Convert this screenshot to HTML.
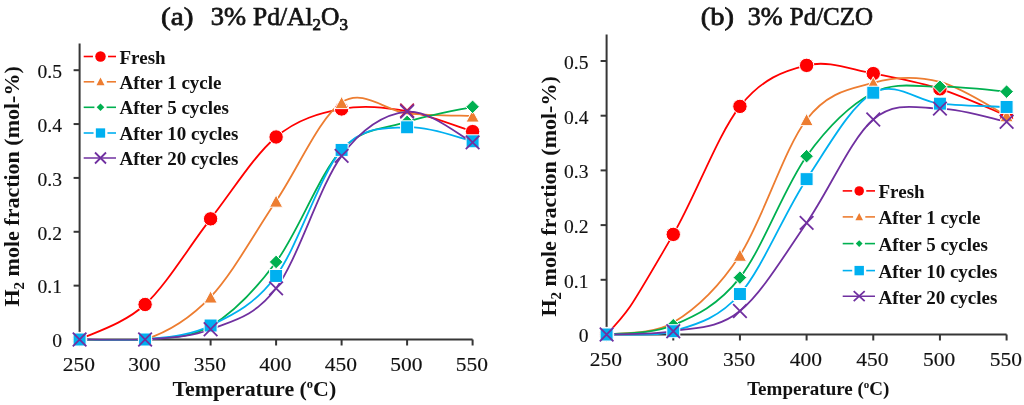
<!DOCTYPE html>
<html><head><meta charset="utf-8"><style>
html,body{margin:0;padding:0;background:#fff;width:1024px;height:405px;overflow:hidden;}
svg{display:block;filter:blur(0.45px);}
text{font-family:"Liberation Serif",serif;fill:#111111;}
.tick{font-size:19px;stroke:#1a1a1a;stroke-width:0.15px;}
.title{font-size:26px;stroke:#1a1a1a;stroke-width:0.75px;}
.axt{font-weight:bold;}
.leg{font-weight:bold;}
</style></head><body>
<svg width="1024" height="405" viewBox="0 0 1024 405">
<rect width="1024" height="405" fill="#fff"/>
<path d="M79.60,43.5 L79.60,339.50 L472.60,339.50" fill="none" stroke="#363636" stroke-width="2"/>
<line x1="73.60" y1="339.50" x2="79.60" y2="339.50" stroke="#363636" stroke-width="2"/>
<text transform="translate(62.00,347.30) scale(1.03,1)" text-anchor="end" class="tick">0</text>
<line x1="73.60" y1="285.64" x2="79.60" y2="285.64" stroke="#363636" stroke-width="2"/>
<text transform="translate(62.00,293.44) scale(1.03,1)" text-anchor="end" class="tick">0.1</text>
<line x1="73.60" y1="231.78" x2="79.60" y2="231.78" stroke="#363636" stroke-width="2"/>
<text transform="translate(62.00,239.58) scale(1.03,1)" text-anchor="end" class="tick">0.2</text>
<line x1="73.60" y1="177.92" x2="79.60" y2="177.92" stroke="#363636" stroke-width="2"/>
<text transform="translate(62.00,185.72) scale(1.03,1)" text-anchor="end" class="tick">0.3</text>
<line x1="73.60" y1="124.06" x2="79.60" y2="124.06" stroke="#363636" stroke-width="2"/>
<text transform="translate(62.00,131.86) scale(1.03,1)" text-anchor="end" class="tick">0.4</text>
<line x1="73.60" y1="70.20" x2="79.60" y2="70.20" stroke="#363636" stroke-width="2"/>
<text transform="translate(62.00,78.00) scale(1.03,1)" text-anchor="end" class="tick">0.5</text>
<line x1="79.60" y1="339.50" x2="79.60" y2="345.50" stroke="#363636" stroke-width="2"/>
<text transform="translate(78.80,371.00) scale(1.13,1)" text-anchor="middle" class="tick">250</text>
<line x1="145.10" y1="339.50" x2="145.10" y2="345.50" stroke="#363636" stroke-width="2"/>
<text transform="translate(144.30,371.00) scale(1.13,1)" text-anchor="middle" class="tick">300</text>
<line x1="210.60" y1="339.50" x2="210.60" y2="345.50" stroke="#363636" stroke-width="2"/>
<text transform="translate(209.80,371.00) scale(1.13,1)" text-anchor="middle" class="tick">350</text>
<line x1="276.10" y1="339.50" x2="276.10" y2="345.50" stroke="#363636" stroke-width="2"/>
<text transform="translate(275.30,371.00) scale(1.13,1)" text-anchor="middle" class="tick">400</text>
<line x1="341.60" y1="339.50" x2="341.60" y2="345.50" stroke="#363636" stroke-width="2"/>
<text transform="translate(340.80,371.00) scale(1.13,1)" text-anchor="middle" class="tick">450</text>
<line x1="407.10" y1="339.50" x2="407.10" y2="345.50" stroke="#363636" stroke-width="2"/>
<text transform="translate(406.30,371.00) scale(1.13,1)" text-anchor="middle" class="tick">500</text>
<line x1="472.60" y1="339.50" x2="472.60" y2="345.50" stroke="#363636" stroke-width="2"/>
<text transform="translate(471.80,371.00) scale(1.13,1)" text-anchor="middle" class="tick">550</text>
<clipPath id="cl"><rect x="79.60" y="43.5" width="394.00" height="296.90"/></clipPath>
<g clip-path="url(#cl)">
<path d="M79.60,339.50 C90.52,333.67 123.27,324.60 145.10,304.49 C166.93,284.38 188.77,246.77 210.60,218.85 C232.43,190.94 254.27,155.30 276.10,136.99 C297.93,118.67 319.77,113.29 341.60,108.98 C363.43,104.67 385.27,107.36 407.10,111.13 C428.93,114.90 461.68,128.19 472.60,131.60" fill="none" stroke="#FF0000" stroke-width="1.8" stroke-linejoin="round"/>
<path d="M79.60,339.50 C90.52,339.50 123.27,346.59 145.10,339.50 C166.93,332.41 188.77,320.02 210.60,296.95 C232.43,273.88 254.27,233.49 276.10,201.08 C297.93,168.67 319.77,117.15 341.60,102.52 C363.43,87.88 385.27,111.04 407.10,113.29 C428.93,115.53 461.68,115.53 472.60,115.98" fill="none" stroke="#ED7D31" stroke-width="1.8" stroke-linejoin="round"/>
<path d="M79.60,339.50 C90.52,339.50 123.27,341.74 145.10,339.50 C166.93,337.26 188.77,338.96 210.60,326.04 C232.43,313.11 254.27,291.30 276.10,261.94 C297.93,232.59 319.77,173.25 341.60,149.91 C363.43,126.57 385.27,129.09 407.10,121.91 C428.93,114.72 461.68,109.34 472.60,106.82" fill="none" stroke="#00B050" stroke-width="1.8" stroke-linejoin="round"/>
<path d="M79.60,339.50 C90.52,339.50 123.27,341.83 145.10,339.50 C166.93,337.17 188.77,336.09 210.60,325.50 C232.43,314.90 254.27,305.21 276.10,275.95 C297.93,246.68 319.77,174.69 341.60,149.91 C363.43,125.14 385.27,128.73 407.10,127.29 C428.93,125.86 461.68,138.96 472.60,141.30" fill="none" stroke="#00B0F0" stroke-width="1.8" stroke-linejoin="round"/>
<path d="M79.60,339.50 C90.52,339.50 123.27,341.21 145.10,339.50 C166.93,337.79 188.77,337.79 210.60,329.27 C232.43,320.74 254.27,317.24 276.10,288.33 C297.93,259.43 319.77,185.28 341.60,155.84 C363.43,126.39 385.27,113.92 407.10,111.67 C428.93,109.43 461.68,137.26 472.60,142.37" fill="none" stroke="#7030A0" stroke-width="1.8" stroke-linejoin="round"/>
</g>
<circle cx="79.60" cy="339.50" r="7.20" fill="#FF0000" stroke="#fff" stroke-width="1"/>
<circle cx="145.10" cy="304.49" r="7.20" fill="#FF0000" stroke="#fff" stroke-width="1"/>
<circle cx="210.60" cy="218.85" r="7.20" fill="#FF0000" stroke="#fff" stroke-width="1"/>
<circle cx="276.10" cy="136.99" r="7.20" fill="#FF0000" stroke="#fff" stroke-width="1"/>
<circle cx="341.60" cy="108.98" r="7.20" fill="#FF0000" stroke="#fff" stroke-width="1"/>
<circle cx="472.60" cy="131.60" r="7.20" fill="#FF0000" stroke="#fff" stroke-width="1"/>
<path d="M79.60,333.40 L86.20,345.60 L73.00,345.60 Z" fill="#ED7D31" stroke="#fff" stroke-width="1"/>
<path d="M145.10,333.40 L151.70,345.60 L138.50,345.60 Z" fill="#ED7D31" stroke="#fff" stroke-width="1"/>
<path d="M210.60,290.85 L217.20,303.05 L204.00,303.05 Z" fill="#ED7D31" stroke="#fff" stroke-width="1"/>
<path d="M276.10,194.98 L282.70,207.18 L269.50,207.18 Z" fill="#ED7D31" stroke="#fff" stroke-width="1"/>
<path d="M341.60,96.42 L348.20,108.62 L335.00,108.62 Z" fill="#ED7D31" stroke="#fff" stroke-width="1"/>
<path d="M472.60,109.88 L479.20,122.08 L466.00,122.08 Z" fill="#ED7D31" stroke="#fff" stroke-width="1"/>
<path d="M79.60,332.70 L86.40,339.50 L79.60,346.30 L72.80,339.50 Z" fill="#00B050" stroke="#fff" stroke-width="1"/>
<path d="M145.10,332.70 L151.90,339.50 L145.10,346.30 L138.30,339.50 Z" fill="#00B050" stroke="#fff" stroke-width="1"/>
<path d="M210.60,319.24 L217.40,326.04 L210.60,332.84 L203.80,326.04 Z" fill="#00B050" stroke="#fff" stroke-width="1"/>
<path d="M276.10,255.14 L282.90,261.94 L276.10,268.74 L269.30,261.94 Z" fill="#00B050" stroke="#fff" stroke-width="1"/>
<path d="M341.60,143.11 L348.40,149.91 L341.60,156.71 L334.80,149.91 Z" fill="#00B050" stroke="#fff" stroke-width="1"/>
<path d="M407.10,115.11 L413.90,121.91 L407.10,128.71 L400.30,121.91 Z" fill="#00B050" stroke="#fff" stroke-width="1"/>
<path d="M472.60,100.02 L479.40,106.82 L472.60,113.62 L465.80,106.82 Z" fill="#00B050" stroke="#fff" stroke-width="1"/>
<rect x="73.10" y="333.00" width="13.00" height="13.00" fill="#00B0F0" stroke="#fff" stroke-width="1"/>
<rect x="138.60" y="333.00" width="13.00" height="13.00" fill="#00B0F0" stroke="#fff" stroke-width="1"/>
<rect x="204.10" y="319.00" width="13.00" height="13.00" fill="#00B0F0" stroke="#fff" stroke-width="1"/>
<rect x="269.60" y="269.45" width="13.00" height="13.00" fill="#00B0F0" stroke="#fff" stroke-width="1"/>
<rect x="335.10" y="143.41" width="13.00" height="13.00" fill="#00B0F0" stroke="#fff" stroke-width="1"/>
<rect x="400.60" y="120.79" width="13.00" height="13.00" fill="#00B0F0" stroke="#fff" stroke-width="1"/>
<rect x="466.10" y="134.80" width="13.00" height="13.00" fill="#00B0F0" stroke="#fff" stroke-width="1"/>
<path d="M72.80,332.70 L86.40,346.30 M86.40,332.70 L72.80,346.30" stroke="#7030A0" stroke-width="1.8" fill="none"/>
<path d="M138.30,332.70 L151.90,346.30 M151.90,332.70 L138.30,346.30" stroke="#7030A0" stroke-width="1.8" fill="none"/>
<path d="M203.80,322.47 L217.40,336.07 M217.40,322.47 L203.80,336.07" stroke="#7030A0" stroke-width="1.8" fill="none"/>
<path d="M269.30,281.53 L282.90,295.13 M282.90,281.53 L269.30,295.13" stroke="#7030A0" stroke-width="1.8" fill="none"/>
<path d="M334.80,149.04 L348.40,162.64 M348.40,149.04 L334.80,162.64" stroke="#7030A0" stroke-width="1.8" fill="none"/>
<path d="M400.30,103.67 L413.90,117.27 M413.90,103.67 L400.30,117.27" stroke="#C0204A" stroke-width="1.8" fill="none"/>
<path d="M400.30,104.87 L413.90,118.47 M413.90,104.87 L400.30,118.47" stroke="#7030A0" stroke-width="1.8" fill="none"/>
<path d="M465.80,135.57 L479.40,149.17 M479.40,135.57 L465.80,149.17" stroke="#7030A0" stroke-width="1.8" fill="none"/>
<path d="M606.60,34.5 L606.60,334.50 L1006.60,334.50" fill="none" stroke="#363636" stroke-width="2"/>
<line x1="600.60" y1="334.50" x2="606.60" y2="334.50" stroke="#363636" stroke-width="2"/>
<text transform="translate(588.50,342.30) scale(1.03,1)" text-anchor="end" class="tick">0</text>
<line x1="600.60" y1="279.80" x2="606.60" y2="279.80" stroke="#363636" stroke-width="2"/>
<text transform="translate(588.50,287.60) scale(1.03,1)" text-anchor="end" class="tick">0.1</text>
<line x1="600.60" y1="225.10" x2="606.60" y2="225.10" stroke="#363636" stroke-width="2"/>
<text transform="translate(588.50,232.90) scale(1.03,1)" text-anchor="end" class="tick">0.2</text>
<line x1="600.60" y1="170.40" x2="606.60" y2="170.40" stroke="#363636" stroke-width="2"/>
<text transform="translate(588.50,178.20) scale(1.03,1)" text-anchor="end" class="tick">0.3</text>
<line x1="600.60" y1="115.70" x2="606.60" y2="115.70" stroke="#363636" stroke-width="2"/>
<text transform="translate(588.50,123.50) scale(1.03,1)" text-anchor="end" class="tick">0.4</text>
<line x1="600.60" y1="61.00" x2="606.60" y2="61.00" stroke="#363636" stroke-width="2"/>
<text transform="translate(588.50,68.80) scale(1.03,1)" text-anchor="end" class="tick">0.5</text>
<line x1="606.60" y1="334.50" x2="606.60" y2="340.50" stroke="#363636" stroke-width="2"/>
<text transform="translate(605.80,365.60) scale(1.13,1)" text-anchor="middle" class="tick">250</text>
<line x1="673.27" y1="334.50" x2="673.27" y2="340.50" stroke="#363636" stroke-width="2"/>
<text transform="translate(672.47,365.60) scale(1.13,1)" text-anchor="middle" class="tick">300</text>
<line x1="739.93" y1="334.50" x2="739.93" y2="340.50" stroke="#363636" stroke-width="2"/>
<text transform="translate(739.13,365.60) scale(1.13,1)" text-anchor="middle" class="tick">350</text>
<line x1="806.60" y1="334.50" x2="806.60" y2="340.50" stroke="#363636" stroke-width="2"/>
<text transform="translate(805.80,365.60) scale(1.13,1)" text-anchor="middle" class="tick">400</text>
<line x1="873.27" y1="334.50" x2="873.27" y2="340.50" stroke="#363636" stroke-width="2"/>
<text transform="translate(872.47,365.60) scale(1.13,1)" text-anchor="middle" class="tick">450</text>
<line x1="939.93" y1="334.50" x2="939.93" y2="340.50" stroke="#363636" stroke-width="2"/>
<text transform="translate(939.13,365.60) scale(1.13,1)" text-anchor="middle" class="tick">500</text>
<line x1="1006.60" y1="334.50" x2="1006.60" y2="340.50" stroke="#363636" stroke-width="2"/>
<text transform="translate(1005.80,365.60) scale(1.13,1)" text-anchor="middle" class="tick">550</text>
<clipPath id="cr"><rect x="606.60" y="34.5" width="401.00" height="300.90"/></clipPath>
<g clip-path="url(#cr)">
<path d="M606.60,334.50 C629.93,309.98 628.82,310.43 673.27,234.40 C695.49,196.38 717.71,134.57 739.93,106.40 C762.16,78.23 784.38,70.85 806.60,65.38 C828.82,59.91 851.04,69.66 873.27,73.58 C895.49,77.50 917.71,81.88 939.93,88.90 C962.16,95.92 995.49,111.23 1006.60,115.70" fill="none" stroke="#FF0000" stroke-width="1.8" stroke-linejoin="round"/>
<path d="M606.60,334.50 C617.71,332.49 651.04,335.69 673.27,322.47 C695.49,309.25 717.71,289.01 739.93,255.19 C762.16,221.36 784.38,148.25 806.60,119.53 C828.82,90.81 851.04,89.17 873.27,82.88 C895.49,76.59 917.71,76.32 939.93,81.79 C962.16,87.26 995.49,110.05 1006.60,115.70" fill="none" stroke="#ED7D31" stroke-width="1.8" stroke-linejoin="round"/>
<path d="M606.60,334.50 C617.71,332.95 651.04,334.68 673.27,325.20 C695.49,315.72 717.71,305.78 739.93,277.61 C762.16,249.44 784.38,186.99 806.60,156.18 C828.82,125.36 851.04,104.30 873.27,92.73 C895.49,81.15 917.71,86.89 939.93,86.71 C962.16,86.53 995.49,90.81 1006.60,91.63" fill="none" stroke="#00B050" stroke-width="1.8" stroke-linejoin="round"/>
<path d="M606.60,334.50 C617.71,333.95 651.04,337.96 673.27,331.22 C695.49,324.47 717.71,319.37 739.93,294.02 C762.16,268.68 784.38,212.70 806.60,179.15 C828.82,145.60 851.04,105.31 873.27,92.73 C895.49,80.14 917.71,101.30 939.93,103.67 C962.16,106.04 995.49,106.40 1006.60,106.95" fill="none" stroke="#00B0F0" stroke-width="1.8" stroke-linejoin="round"/>
<path d="M606.60,334.50 C617.71,333.95 651.04,335.14 673.27,331.22 C695.49,327.30 717.71,329.03 739.93,310.98 C762.16,292.93 784.38,254.82 806.60,222.91 C828.82,191.00 851.04,138.58 873.27,119.53 C895.49,100.48 917.71,108.22 939.93,108.59 C962.16,108.95 995.49,119.53 1006.60,121.72" fill="none" stroke="#7030A0" stroke-width="1.8" stroke-linejoin="round"/>
</g>
<circle cx="606.60" cy="334.50" r="7.20" fill="#FF0000" stroke="#fff" stroke-width="1"/>
<circle cx="673.27" cy="234.40" r="7.20" fill="#FF0000" stroke="#fff" stroke-width="1"/>
<circle cx="739.93" cy="106.40" r="7.20" fill="#FF0000" stroke="#fff" stroke-width="1"/>
<circle cx="806.60" cy="65.38" r="7.20" fill="#FF0000" stroke="#fff" stroke-width="1"/>
<circle cx="873.27" cy="73.58" r="7.20" fill="#FF0000" stroke="#fff" stroke-width="1"/>
<circle cx="939.93" cy="88.90" r="7.20" fill="#FF0000" stroke="#fff" stroke-width="1"/>
<circle cx="1006.60" cy="115.70" r="7.20" fill="#FF0000" stroke="#fff" stroke-width="1"/>
<path d="M606.60,328.40 L613.20,340.60 L600.00,340.60 Z" fill="#ED7D31" stroke="#fff" stroke-width="1"/>
<path d="M739.93,249.09 L746.53,261.29 L733.33,261.29 Z" fill="#ED7D31" stroke="#fff" stroke-width="1"/>
<path d="M806.60,113.43 L813.20,125.63 L800.00,125.63 Z" fill="#ED7D31" stroke="#fff" stroke-width="1"/>
<path d="M873.27,76.78 L879.87,88.98 L866.67,88.98 Z" fill="#ED7D31" stroke="#fff" stroke-width="1"/>
<path d="M1006.60,109.60 L1013.20,121.80 L1000.00,121.80 Z" fill="#ED7D31" stroke="#fff" stroke-width="1"/>
<path d="M606.60,327.70 L613.40,334.50 L606.60,341.30 L599.80,334.50 Z" fill="#00B050" stroke="#fff" stroke-width="1"/>
<path d="M673.27,318.40 L680.07,325.20 L673.27,332.00 L666.47,325.20 Z" fill="#00B050" stroke="#fff" stroke-width="1"/>
<path d="M739.93,270.81 L746.73,277.61 L739.93,284.41 L733.13,277.61 Z" fill="#00B050" stroke="#fff" stroke-width="1"/>
<path d="M806.60,149.38 L813.40,156.18 L806.60,162.98 L799.80,156.18 Z" fill="#00B050" stroke="#fff" stroke-width="1"/>
<path d="M873.27,85.93 L880.07,92.73 L873.27,99.53 L866.47,92.73 Z" fill="#00B050" stroke="#fff" stroke-width="1"/>
<path d="M939.93,79.91 L946.73,86.71 L939.93,93.51 L933.13,86.71 Z" fill="#00B050" stroke="#fff" stroke-width="1"/>
<path d="M1006.60,84.83 L1013.40,91.63 L1006.60,98.43 L999.80,91.63 Z" fill="#00B050" stroke="#fff" stroke-width="1"/>
<rect x="600.10" y="328.00" width="13.00" height="13.00" fill="#00B0F0" stroke="#fff" stroke-width="1"/>
<rect x="666.77" y="324.72" width="13.00" height="13.00" fill="#00B0F0" stroke="#fff" stroke-width="1"/>
<rect x="733.43" y="287.52" width="13.00" height="13.00" fill="#00B0F0" stroke="#fff" stroke-width="1"/>
<rect x="800.10" y="172.65" width="13.00" height="13.00" fill="#00B0F0" stroke="#fff" stroke-width="1"/>
<rect x="866.77" y="86.23" width="13.00" height="13.00" fill="#00B0F0" stroke="#fff" stroke-width="1"/>
<rect x="933.43" y="97.17" width="13.00" height="13.00" fill="#00B0F0" stroke="#fff" stroke-width="1"/>
<rect x="1000.10" y="100.45" width="13.00" height="13.00" fill="#00B0F0" stroke="#fff" stroke-width="1"/>
<path d="M599.80,327.70 L613.40,341.30 M613.40,327.70 L599.80,341.30" stroke="#7030A0" stroke-width="1.8" fill="none"/>
<path d="M666.47,324.42 L680.07,338.02 M680.07,324.42 L666.47,338.02" stroke="#7030A0" stroke-width="1.8" fill="none"/>
<path d="M733.13,304.18 L746.73,317.78 M746.73,304.18 L733.13,317.78" stroke="#7030A0" stroke-width="1.8" fill="none"/>
<path d="M799.80,216.11 L813.40,229.71 M813.40,216.11 L799.80,229.71" stroke="#7030A0" stroke-width="1.8" fill="none"/>
<path d="M866.47,112.73 L880.07,126.33 M880.07,112.73 L866.47,126.33" stroke="#7030A0" stroke-width="1.8" fill="none"/>
<path d="M933.13,101.79 L946.73,115.39 M946.73,101.79 L933.13,115.39" stroke="#7030A0" stroke-width="1.8" fill="none"/>
<path d="M999.80,114.92 L1013.40,128.52 M1013.40,114.92 L999.80,128.52" stroke="#7030A0" stroke-width="1.8" fill="none"/>
<line x1="83.7" y1="56.50" x2="92.95" y2="56.50" stroke="#FF0000" stroke-width="1.6"/>
<line x1="108.05" y1="56.50" x2="116" y2="56.50" stroke="#FF0000" stroke-width="1.6"/>
<ellipse cx="100.50" cy="56.50" rx="5.25" ry="5.25" fill="#FF0000"/>
<text x="119.5" y="63.50" class="leg" style="font-size:19px">Fresh</text>
<line x1="83.7" y1="81.80" x2="94.20" y2="81.80" stroke="#ED7D31" stroke-width="1.6"/>
<line x1="106.80" y1="81.80" x2="116" y2="81.80" stroke="#ED7D31" stroke-width="1.6"/>
<path d="M100.50,77.62 L104.50,85.22 L96.50,85.22 Z" fill="#ED7D31"/>
<text x="119.5" y="88.80" class="leg" style="font-size:19px">After 1 cycle</text>
<line x1="83.7" y1="107.30" x2="94.40" y2="107.30" stroke="#00B050" stroke-width="1.6"/>
<line x1="106.60" y1="107.30" x2="116" y2="107.30" stroke="#00B050" stroke-width="1.6"/>
<path d="M100.50,103.50 L104.30,107.30 L100.50,111.10 L96.70,107.30 Z" fill="#00B050"/>
<text x="119.5" y="114.30" class="leg" style="font-size:19px">After 5 cycles</text>
<line x1="83.7" y1="133.00" x2="93.55" y2="133.00" stroke="#00B0F0" stroke-width="1.6"/>
<line x1="107.45" y1="133.00" x2="116" y2="133.00" stroke="#00B0F0" stroke-width="1.6"/>
<rect x="95.85" y="128.35" width="9.30" height="9.30" fill="#00B0F0"/>
<text x="119.5" y="140.00" class="leg" style="font-size:19px">After 10 cycles</text>
<line x1="83.7" y1="158.00" x2="116" y2="158.00" stroke="#7030A0" stroke-width="1.6"/>
<path d="M95.00,152.50 L106.00,163.50 M106.00,152.50 L95.00,163.50" stroke="#7030A0" stroke-width="1.8" fill="none"/>
<text x="119.5" y="165.00" class="leg" style="font-size:19px">After 20 cycles</text>
<line x1="842.7" y1="190.90" x2="852.15" y2="190.90" stroke="#FF0000" stroke-width="1.6"/>
<line x1="866.25" y1="190.90" x2="875" y2="190.90" stroke="#FF0000" stroke-width="1.6"/>
<ellipse cx="859.20" cy="190.90" rx="4.75" ry="4.75" fill="#FF0000"/>
<text x="878.5" y="198.40" class="leg" style="font-size:19px">Fresh</text>
<line x1="842.7" y1="216.90" x2="853.10" y2="216.90" stroke="#ED7D31" stroke-width="1.6"/>
<line x1="865.30" y1="216.90" x2="875" y2="216.90" stroke="#ED7D31" stroke-width="1.6"/>
<path d="M859.20,212.94 L863.00,220.14 L855.40,220.14 Z" fill="#ED7D31"/>
<text x="878.5" y="224.40" class="leg" style="font-size:19px">After 1 cycle</text>
<line x1="842.7" y1="243.60" x2="853.50" y2="243.60" stroke="#00B050" stroke-width="1.6"/>
<line x1="864.90" y1="243.60" x2="875" y2="243.60" stroke="#00B050" stroke-width="1.6"/>
<path d="M859.20,240.20 L862.60,243.60 L859.20,247.00 L855.80,243.60 Z" fill="#00B050"/>
<text x="878.5" y="251.10" class="leg" style="font-size:19px">After 5 cycles</text>
<line x1="842.7" y1="270.60" x2="852.20" y2="270.60" stroke="#00B0F0" stroke-width="1.6"/>
<line x1="866.20" y1="270.60" x2="875" y2="270.60" stroke="#00B0F0" stroke-width="1.6"/>
<rect x="854.50" y="265.90" width="9.40" height="9.40" fill="#00B0F0"/>
<text x="878.5" y="278.10" class="leg" style="font-size:19px">After 10 cycles</text>
<line x1="842.7" y1="296.20" x2="875" y2="296.20" stroke="#7030A0" stroke-width="1.6"/>
<path d="M853.70,291.20 L864.70,301.20 M864.70,291.20 L853.70,301.20" stroke="#7030A0" stroke-width="1.8" fill="none"/>
<text x="878.5" y="303.70" class="leg" style="font-size:19px">After 20 cycles</text>
<text transform="translate(161,24.8) scale(1.17,1)" class="title" style="font-size:25px">(a)</text>
<text transform="translate(210.8,24.8) scale(1.06,1)" class="title" style="font-size:25px">3%</text>
<text transform="translate(253,24.8) scale(1.0,1)" class="title" style="font-size:25.5px">Pd/Al<tspan dy="4.8" font-size="17">2</tspan><tspan dy="-4.8">O</tspan><tspan dy="4.8" font-size="17">3</tspan></text>
<text transform="translate(700.8,24.8) scale(1.14,1)" class="title" style="font-size:25px">(b)</text>
<text transform="translate(747.7,24.8) scale(1.05,1)" class="title" style="font-size:25px">3%</text>
<text transform="translate(789.8,24.8) scale(0.98,1)" class="title" style="font-size:25.5px">Pd/CZO</text>
<text x="172.5" y="395.6" class="axt" style="font-size:21.9px">Temperature (<tspan dy="-8" font-size="12.5">o</tspan><tspan dy="8">C)</tspan></text>
<text x="747.2" y="395.1" class="axt" style="font-size:19px">Temperature (<tspan dy="-7" font-size="11">o</tspan><tspan dy="7">C)</tspan></text>
<text transform="translate(18.8,306.5) rotate(-90)" class="axt" style="font-size:22px">H<tspan dy="5" font-size="15">2</tspan><tspan dy="-5"> mole fraction (mol-%)</tspan></text>
<text transform="translate(555.6,316.5) rotate(-90)" class="axt" style="font-size:22px">H<tspan dy="5" font-size="15">2</tspan><tspan dy="-5"> mole fraction (mol-%)</tspan></text>
</svg>
</body></html>
